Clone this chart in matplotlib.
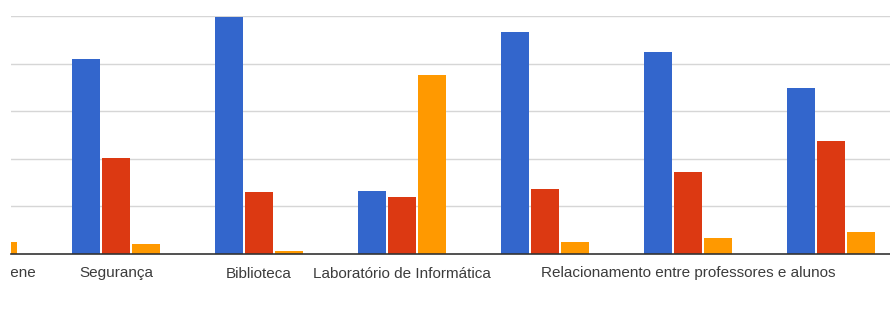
import numpy as np
import matplotlib
matplotlib.use("Agg")
import matplotlib.pyplot as plt
from matplotlib.transforms import Bbox, TransformedBbox

# Data (grid step = 10)
categories = ["Higiene", "Segurança", "Biblioteca", "Laboratório de Informática",
              "", "Relacionamento entre professores e alunos", ""]
series_blue = [np.nan, 41.0, 49.8, 13.2, 46.6, 42.4, 34.9]
series_red = [np.nan, 20.2, 13.0, 12.0, 13.7, 17.2, 23.7]
series_orange = [2.5, 2.1, 0.6, 37.6, 2.5, 3.4, 4.6]

colors = ["#3366CC", "#DC3912", "#FF9900"]
W, H = 890, 318
fig = plt.figure(figsize=(W / 100, H / 100), dpi=100)
fig.patch.set_facecolor("white")

left_px, right_px = 11, 890
top_px, base_px = 16, 254
ax = fig.add_axes([left_px / W, 1 - base_px / H, (right_px - left_px) / W, (base_px - top_px) / H])

x = np.arange(len(categories))
slot = 30 / 143
bw = 28 / 143
for k, (vals, c) in enumerate(zip([series_blue, series_red, series_orange], colors)):
    ax.bar(x + (k - 1) * slot, vals, width=bw, color=c, zorder=3, linewidth=0)

ax.set_ylim(0, 50)
ax.set_xlim((left_px + 27) / 143, (right_px + 27) / 143)
ax.set_yticks([10, 20, 30, 40, 50])
ax.yaxis.grid(True, color="#d6d6d6", linewidth=1, zorder=0)
ax.tick_params(axis="y", left=False, labelleft=False)
for s in ["top", "right", "left"]:
    ax.spines[s].set_visible(False)
ax.spines["bottom"].set_color("#333333")
ax.spines["bottom"].set_linewidth(1.2)
ax.spines["bottom"].set_zorder(4)

ax.set_xticks(x[1:])
ax.set_xticklabels(categories[1:], fontfamily="Liberation Sans", fontsize=11, color="#3c3c3c")
ax.tick_params(axis="x", length=0, pad=9)

# Partially visible first label (clipped by the left edge of the chart area)
t = fig.text(36 / W, 1 - 272.5 / H, categories[0], ha="right", va="center",
             fontfamily="Liberation Sans", fontsize=11, color="#3c3c3c")
t.set_clip_box(TransformedBbox(Bbox([[left_px / W, 0], [1, 1]]), fig.transFigure))
t.set_clip_on(True)

fig.savefig("out.png", dpi=100, facecolor="white")
